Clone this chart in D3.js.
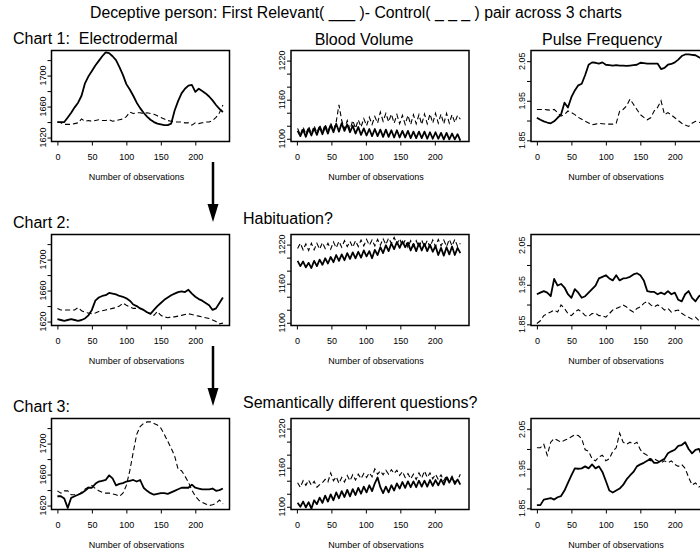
<!DOCTYPE html>
<meta charset="utf-8">
<style>
  body { margin: 0; background: #fff; }
  text { font-family: "Liberation Sans", Arial, sans-serif; fill: #000; }
</style>
<body>
<div id="my_dataviz"></div>

<script src="https://d3js.org/d3.v7.min.js"></script>
<script>

// observation index of each sampled value
var obs5 = d3.range(0, 241, 5);   // electrodermal + pulse: every 5th observation
var obs4 = d3.range(1, 241, 4);   // blood volume: every 4th, keeps the pulse zig-zag

// ---- Electrodermal (relevant = solid, control = dashed)
var edRel1 = [1640,1640,1640,1646,1652,1659,1665,1674,1690,1699,1706,1713,1719,1725,1730,1729,1725,1720,1711,1701,1689,1682,1674,1665,1658,1652,1647,1643,1640,1638,1637,1636,1636,1638,1655,1667,1677,1683,1687,1688,1679,1683,1680,1677,1673,1668,1662,1657,1653];
var edCtl1 = [1640,1639,1637,1637,1637,1638,1639,1644,1641,1642,1641,1642,1643,1642,1642,1643,1641,1642,1643,1644,1647,1653,1651,1652,1652,1651,1652,1651,1650,1648,1646,1644,1642,1641,1640,1640,1640,1639,1639,1636,1639,1638,1639,1640,1640,1642,1646,1652,1662];
var edRel2 = [1623,1622,1621,1622,1623,1622,1621,1622,1624,1628,1635,1647,1651,1653,1654,1657,1656,1655,1653,1652,1650,1647,1642,1640,1637,1635,1632,1630,1635,1640,1644,1648,1651,1654,1656,1658,1659,1658,1661,1656,1652,1649,1647,1644,1641,1635,1637,1644,1651];
var edCtl2 = [1637,1635,1635,1635,1635,1635,1638,1634,1632,1631,1630,1631,1633,1634,1635,1636,1637,1638,1640,1644,1641,1639,1637,1637,1637,1635,1632,1630,1628,1633,1628,1626,1625,1626,1626,1627,1628,1629,1630,1629,1628,1627,1626,1625,1624,1622,1620,1617,1618];
var edRel3 = [1632,1632,1629,1617,1630,1632,1634,1636,1639,1643,1643,1648,1651,1652,1653,1659,1655,1646,1648,1649,1651,1652,1653,1651,1653,1643,1639,1636,1634,1635,1636,1636,1635,1637,1639,1641,1643,1643,1643,1647,1643,1642,1641,1641,1641,1642,1639,1640,1642];
var edCtl3 = [1639,1636,1639,1639,1634,1634,1634,1637,1641,1644,1646,1642,1639,1637,1636,1636,1635,1634,1632,1636,1646,1665,1689,1712,1722,1726,1728,1728,1726,1724,1720,1712,1703,1694,1684,1667,1665,1658,1650,1640,1632,1627,1624,1622,1620,1621,1623,1627,1622];

// ---- Blood volume
var bvRel1 = [1112,1104,1114,1103,1115,1105,1116,1106,1118,1107,1119,1108,1121,1110,1123,1111,1124,1112,1122,1110,1120,1108,1118,1106,1116,1105,1115,1104,1115,1104,1114,1103,1114,1103,1113,1102,1113,1102,1112,1102,1112,1101,1111,1101,1111,1101,1111,1100,1110,1100,1110,1100,1109,1099,1109,1099,1108,1099,1107,1097];
var bvCtl1 = [1116,1106,1118,1107,1119,1108,1120,1109,1121,1110,1122,1111,1124,1113,1126,1152,1128,1115,1128,1114,1128,1116,1129,1118,1131,1120,1133,1122,1134,1124,1141,1127,1139,1126,1138,1124,1137,1123,1136,1122,1136,1122,1137,1123,1137,1122,1138,1123,1138,1124,1139,1124,1138,1123,1139,1124,1137,1125,1136,1130];
var bvRel2 = [1195,1187,1194,1185,1192,1184,1195,1187,1197,1189,1199,1191,1201,1193,1204,1195,1205,1196,1207,1198,1208,1199,1209,1200,1211,1202,1210,1199,1212,1204,1216,1207,1219,1210,1222,1213,1224,1215,1225,1216,1223,1211,1221,1210,1222,1211,1221,1210,1220,1209,1218,1204,1215,1203,1216,1205,1217,1204,1215,1207];
var bvCtl2 = [1214,1222,1212,1221,1211,1222,1212,1222,1213,1223,1214,1222,1213,1224,1215,1225,1216,1226,1217,1225,1216,1226,1217,1227,1218,1228,1219,1227,1218,1228,1219,1229,1220,1230,1222,1231,1221,1229,1218,1227,1216,1226,1217,1226,1216,1227,1217,1226,1216,1227,1217,1228,1218,1227,1217,1228,1218,1228,1217,1222];
var bvRel3 = [1106,1100,1108,1099,1107,1097,1110,1104,1114,1106,1117,1108,1119,1110,1122,1113,1124,1115,1126,1116,1127,1118,1129,1120,1131,1122,1133,1124,1136,1145,1130,1121,1131,1122,1133,1125,1136,1128,1138,1129,1139,1130,1139,1130,1140,1131,1140,1131,1141,1132,1141,1133,1142,1134,1145,1137,1145,1135,1142,1134];
var bvCtl3 = [1137,1130,1140,1133,1141,1133,1139,1130,1134,1137,1142,1138,1152,1140,1146,1136,1145,1138,1148,1140,1149,1141,1150,1143,1151,1145,1152,1146,1158,1150,1155,1149,1156,1150,1157,1151,1156,1148,1154,1145,1151,1143,1150,1142,1152,1144,1155,1145,1152,1143,1150,1142,1149,1140,1148,1139,1147,1138,1141,1150];

// ---- Pulse frequency
var pfRel1 = [1.907,1.902,1.898,1.895,1.893,1.898,1.907,1.915,1.945,1.933,1.959,1.976,1.989,1.993,2.015,2.041,2.047,2.046,2.044,2.047,2.041,2.040,2.039,2.040,2.039,2.039,2.038,2.039,2.040,2.041,2.046,2.045,2.044,2.044,2.044,2.044,2.030,2.033,2.041,2.043,2.047,2.054,2.063,2.067,2.067,2.066,2.065,2.060,2.055];
var pfCtl1 = [1.928,1.928,1.928,1.927,1.926,1.928,1.920,1.911,1.915,1.924,1.920,1.915,1.908,1.903,1.898,1.894,1.889,1.891,1.893,1.892,1.891,1.891,1.891,1.893,1.924,1.928,1.937,1.954,1.941,1.928,1.915,1.908,1.902,1.907,1.924,1.933,1.950,1.915,1.920,1.914,1.907,1.900,1.893,1.889,1.885,1.893,1.898,1.896,1.893];
var pfRel2 = [1.926,1.930,1.934,1.930,1.921,1.965,1.948,1.952,1.943,1.926,1.917,1.939,1.930,1.917,1.921,1.930,1.939,1.948,1.966,1.970,1.974,1.966,1.961,1.974,1.961,1.966,1.967,1.970,1.976,1.979,1.974,1.961,1.934,1.932,1.932,1.926,1.930,1.926,1.934,1.926,1.930,1.912,1.908,1.926,1.934,1.917,1.908,1.921,1.926];
var pfCtl2 = [1.852,1.859,1.872,1.877,1.881,1.886,1.881,1.899,1.890,1.877,1.872,1.881,1.887,1.881,1.872,1.870,1.877,1.878,1.872,1.872,1.868,1.877,1.886,1.890,1.894,1.899,1.894,1.886,1.881,1.890,1.894,1.903,1.908,1.899,1.894,1.899,1.894,1.886,1.890,1.881,1.884,1.886,1.878,1.872,1.868,1.863,1.868,1.859,1.854];
var pfRel3 = [1.858,1.858,1.872,1.874,1.876,1.872,1.878,1.881,1.895,1.914,1.933,1.951,1.950,1.951,1.956,1.951,1.961,1.951,1.956,1.942,1.919,1.895,1.890,1.895,1.900,1.909,1.923,1.933,1.942,1.956,1.961,1.965,1.970,1.975,1.965,1.965,1.970,1.975,1.989,1.994,1.998,2.008,2.010,2.017,2.000,1.989,1.998,2.000,1.980];
var pfCtl3 = [2.003,2.003,2.012,1.984,2.017,2.026,2.022,2.017,2.022,2.025,2.031,2.036,2.034,2.026,1.998,1.994,1.975,1.970,1.980,1.984,1.970,1.975,1.994,2.003,2.040,2.017,2.012,2.017,2.012,2.017,1.998,1.989,1.984,1.970,1.975,1.970,1.965,1.970,1.965,1.970,1.961,1.956,1.961,1.951,1.928,1.909,1.914,1.904,1.909];

// axes
var xRange = [-8.56, 249.56];
var xTicks = [0, 50, 100, 150, 200];
var edRange = [1614.9, 1732.4], edTicks = [1620,1640,1660,1680,1700,1720], edLabels = [1620,1660,1700];
var bvRange = [1095.8, 1235.5], bvTicks = [1100,1120,1140,1160,1180,1200,1220], bvLabels = [1100,1160,1220];
var pfRange = [1.847, 2.077], pfTicks = [1.85,1.90,1.95,2.00,2.05], pfLabels = [1.85,1.95,2.05];

var rowTitles = ["Chart 1:", "Chart 2:", "Chart 3:"];
var rowNotes = ["", "Habituation?", "Semantically different questions?"];

// panel layout (R mfrow 3x3 with the right column cut by the crop)
var colLeft = [51.5, 291, 531], rowTop = [50.5, 234.5, 418.5];
var pw = 178, ph = 91;

var panels = [
  {r: 0, c: 0, obs: obs5, rel: edRel1, ctl: edCtl1, yr: edRange, ticks: edTicks, labels: edLabels, fmt: d3.format("d")},
  {r: 0, c: 1, obs: obs4, rel: bvRel1, ctl: bvCtl1, yr: bvRange, ticks: bvTicks, labels: bvLabels, fmt: d3.format("d")},
  {r: 0, c: 2, obs: obs5, rel: pfRel1, ctl: pfCtl1, yr: pfRange, ticks: pfTicks, labels: pfLabels, fmt: d3.format(".2f")},
  {r: 1, c: 0, obs: obs5, rel: edRel2, ctl: edCtl2, yr: edRange, ticks: edTicks, labels: edLabels, fmt: d3.format("d")},
  {r: 1, c: 1, obs: obs4, rel: bvRel2, ctl: bvCtl2, yr: bvRange, ticks: bvTicks, labels: bvLabels, fmt: d3.format("d")},
  {r: 1, c: 2, obs: obs5, rel: pfRel2, ctl: pfCtl2, yr: pfRange, ticks: pfTicks, labels: pfLabels, fmt: d3.format(".2f")},
  {r: 2, c: 0, obs: obs5, rel: edRel3, ctl: edCtl3, yr: edRange, ticks: edTicks, labels: edLabels, fmt: d3.format("d")},
  {r: 2, c: 1, obs: obs4, rel: bvRel3, ctl: bvCtl3, yr: bvRange, ticks: bvTicks, labels: bvLabels, fmt: d3.format("d")},
  {r: 2, c: 2, obs: obs5, rel: pfRel3, ctl: pfCtl3, yr: pfRange, ticks: pfTicks, labels: pfLabels, fmt: d3.format(".2f")}
];

var svg = d3.select("#my_dataviz")
  .append("svg")
    .attr("width", 700)
    .attr("height", 552)
    .style("display", "block");

// titles
svg.append("text")
  .attr("x", 356).attr("y", 18)
  .attr("text-anchor", "middle")
  .style("font-size", "15.8px")
  .text("Deceptive person: First Relevant( ___ )- Control( _ _ _ ) pair across 3 charts");

svg.append("text").attr("x", 13).attr("y", 44).style("font-size", "16px")
  .text("Chart 1:\u00a0\u00a0Electrodermal");
svg.append("text").attr("x", 364).attr("y", 45).attr("text-anchor", "middle").style("font-size", "16px")
  .text("Blood Volume");
svg.append("text").attr("x", 602).attr("y", 45).attr("text-anchor", "middle").style("font-size", "16px")
  .text("Pulse Frequency");

rowTitles.forEach(function(t, i) {
  if (i == 0) return;
  svg.append("text").attr("x", 13).attr("y", rowTop[i] - 6.5).style("font-size", "16px").text(t);
  svg.append("text").attr("x", 243).attr("y", rowTop[i] - 10.5).style("font-size", "16px").text(rowNotes[i]);
});

// arrows between the charts
[0, 1].forEach(function(i) {
  var dy = i * 184;
  svg.append("line")
    .attr("x1", 213).attr("x2", 213)
    .attr("y1", 162 + dy).attr("y2", 207 + dy)
    .attr("stroke", "#000").attr("stroke-width", 2.5);
  svg.append("path")
    .attr("d", "M207.5," + (204 + dy) + "L218.5," + (204 + dy) + "L213," + (222 + dy) + "Z")
    .attr("fill", "#000");
});

panels.forEach(function(p, i) {
  var g = svg.append("g")
    .attr("transform", "translate(" + colLeft[p.c] + "," + rowTop[p.r] + ")");

  var x = d3.scaleLinear().domain(xRange).range([0, pw]);
  var y = d3.scaleLinear().domain(p.yr).range([ph, 0]);

  g.append("clipPath").attr("id", "clip" + i)
    .append("rect").attr("width", pw).attr("height", ph);

  var line = d3.line()
    .x(function(d, j) { return x(p.obs[j]); })
    .y(function(d) { return y(d); });

  // control, dashed
  g.append("path")
    .datum(p.ctl)
    .attr("clip-path", "url(#clip" + i + ")")
    .attr("fill", "none")
    .attr("stroke", "#000")
    .attr("stroke-width", 1.1)
    .attr("stroke-dasharray", "5,3")
    .attr("d", line);

  // relevant, solid
  g.append("path")
    .datum(p.rel)
    .attr("clip-path", "url(#clip" + i + ")")
    .attr("fill", "none")
    .attr("stroke", "#000")
    .attr("stroke-width", 1.8)
    .attr("stroke-linejoin", "round")
    .attr("d", line);

  // X axis
  var xa = g.append("g")
    .attr("transform", "translate(0," + ph + ")")
    .call(d3.axisBottom(x).tickValues(xTicks).tickSize(4).tickPadding(8.5));
  xa.select(".domain").remove();
  xa.selectAll("text").style("font-size", "9px");

  // Y axis, labels upright like R
  var ya = g.append("g")
    .call(d3.axisLeft(y).tickValues(p.ticks).tickSize(4).tickFormat(""));
  ya.select(".domain").remove();
  g.selectAll(".ylab")
    .data(p.labels)
    .enter()
    .append("text")
      .attr("transform", function(d) { return "translate(-6," + y(d) + ") rotate(-90)"; })
      .attr("text-anchor", "middle")
      .style("font-size", "9px")
      .text(p.fmt);

  // box
  g.append("rect")
    .attr("width", pw).attr("height", ph)
    .attr("fill", "none")
    .attr("stroke", "#000")
    .attr("stroke-width", 1.5);

  g.append("text")
    .attr("x", pw / 2 - 4).attr("y", ph + 38)
    .attr("text-anchor", "middle")
    .style("font-size", "9px")
    .text("Number of observations");
});

</script>
</body>
